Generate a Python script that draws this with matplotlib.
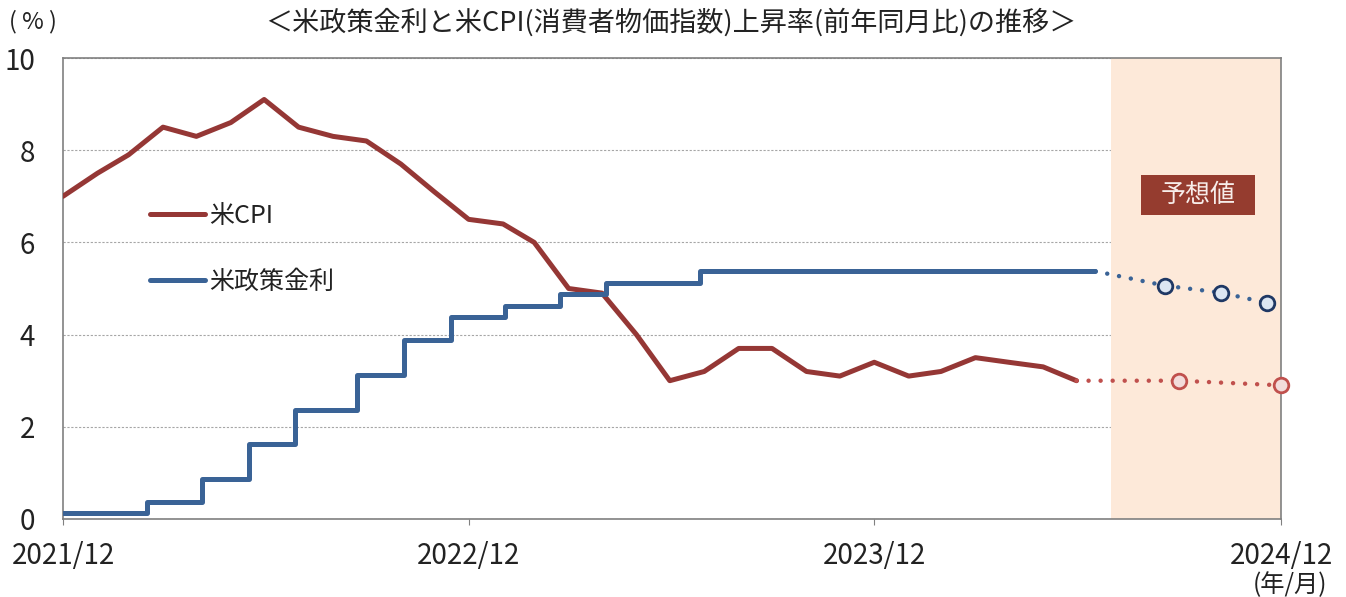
import numpy as np
import pandas as pd
import matplotlib
matplotlib.use("Agg")
import matplotlib.pyplot as plt
import matplotlib.patches as mpatches

plt.rcParams['font.family'] = ['Noto Sans CJK JP', 'DejaVu Sans']

# 米CPI (前年同月比, %) 月末
cpi_months = ["2021/12", "2022/01", "2022/02", "2022/03", "2022/04", "2022/05", "2022/06",
              "2022/07", "2022/08", "2022/09", "2022/10", "2022/11", "2022/12",
              "2023/01", "2023/02", "2023/03", "2023/04", "2023/05", "2023/06",
              "2023/07", "2023/08", "2023/09", "2023/10", "2023/11", "2023/12",
              "2024/01", "2024/02", "2024/03", "2024/04", "2024/05", "2024/06"]
cpi = [7.0, 7.5, 7.9, 8.5, 8.3, 8.6, 9.1, 8.5, 8.3, 8.2, 7.7, 7.1, 6.5,
       6.4, 6.0, 5.0, 4.9, 4.0, 3.0, 3.2, 3.7, 3.7, 3.2, 3.1, 3.4,
       3.1, 3.2, 3.5, 3.4, 3.3, 3.0]

# 予想値 (CPI)
cpi_fc_months = ["2024/06", "2024/09", "2024/12"]
cpi_fc = [3.0, 3.0, 2.9]

# 米政策金利 (FF金利誘導目標 中央値)
rate_dates = ["2021-12-31", "2022-03-17", "2022-05-05", "2022-06-16", "2022-07-28",
              "2022-09-22", "2022-11-03", "2022-12-15", "2023-02-02", "2023-03-23",
              "2023-05-04", "2023-07-27", "2024-07-17"]
rate = [0.125, 0.375, 0.875, 1.625, 2.375, 3.125, 3.875, 4.375, 4.625, 4.875,
        5.125, 5.375, 5.375]

# 予想値 (政策金利)
rate_fc_dates = ["2024-07-17", "2024-09-18", "2024-11-07", "2024-12-18"]
rate_fc = [5.375, 5.06, 4.91, 4.69]

forecast_start = "2024-07-31"
xticks = ["2021/12", "2022/12", "2023/12", "2024/12"]


def month_end(labels):
    return pd.to_datetime(labels, format="%Y/%m") + pd.offsets.MonthEnd(0)


red = "#953735"
blue = "#3A6396"
grey = "#808080"
txt = "#222222"

fig = plt.figure(figsize=(13.46, 5.97), dpi=100)
ax = fig.add_axes([63 / 1346, 78 / 597, 1218 / 1346, 461 / 597])

x_tick_dates = month_end(xticks)
ax.axvspan(pd.Timestamp(forecast_start), x_tick_dates[-1], color="#FDE9D9", lw=0, zorder=1)

ax.plot(month_end(cpi_months), cpi, color=red, lw=3.6, solid_capstyle="round",
        solid_joinstyle="round", zorder=3, label="米CPI")
ax.plot(pd.to_datetime(rate_dates), rate, drawstyle="steps-post", color=blue, lw=3.6,
        solid_capstyle="round", solid_joinstyle="round", zorder=3, label="米政策金利")

# forecast dotted lines and markers
ax.plot(month_end(cpi_fc_months), cpi_fc, color="#C0504D", lw=3.2, ls=(0, (0.01, 2.7)),
        dash_capstyle="round", zorder=3)
ax.plot(month_end(cpi_fc_months)[1:], cpi_fc[1:], ls="none", marker="o", ms=10.5,
        mfc="#F2DCDB", mec="#C0504D", mew=2, zorder=4, clip_on=False)
ax.plot(pd.to_datetime(rate_fc_dates), rate_fc, color=blue, lw=3.2, ls=(0, (0.01, 2.7)),
        dash_capstyle="round", zorder=3)
ax.plot(pd.to_datetime(rate_fc_dates)[1:], rate_fc[1:], ls="none", marker="o", ms=10.5,
        mfc="#DCE6F2", mec="#1F3864", mew=2, zorder=4, clip_on=False)

ax.set_xlim(x_tick_dates[0], x_tick_dates[-1])
ax.set_ylim(0, 10)
ax.set_yticks(np.arange(0, 11, 2))
ax.set_xticks(x_tick_dates)
ax.set_xticklabels(xticks)
ax.tick_params(axis="y", length=0, pad=20, labelsize=20, labelcolor=txt)
ax.tick_params(axis="x", length=4, color=grey, pad=12, labelsize=20, labelcolor=txt)

ax.set_axisbelow(True)
ax.yaxis.grid(True, color="#A6A6A6", lw=0.8, ls=(0, (2, 1.5)))
for s in ax.spines.values():
    s.set_color(grey)
    s.set_linewidth(1.2)

ax.legend(loc="upper left", bbox_to_anchor=(0.0714, 0.685), frameon=False, fontsize=18,
          handlelength=2.2, handletextpad=0.16, labelspacing=1.6, borderpad=0,
          borderaxespad=0, labelcolor=txt)

# 予想値 box
fig.patches.append(mpatches.Rectangle((1141 / 1346, 1 - 215 / 597), 114 / 1346, 40 / 597,
                                      transform=fig.transFigure, fc="#953C2F", ec="none",
                                      zorder=5))
fig.text(1198 / 1346, 1 - 195 / 597, "予想値", ha="center", va="center", fontsize=18,
         color="#F7EDEA", zorder=6)

fig.text(671 / 1346, 1 - 22 / 597, "＜米政策金利と米CPI(消費者物価指数)上昇率(前年同月比)の推移＞",
         ha="center", va="center", fontsize=19.5, color=txt)
fig.text(9 / 1346, 1 - 22 / 597, "( % )", ha="left", va="center", fontsize=17, color=txt)
fig.text(1290 / 1346, 1 - 585 / 597, "(年/月)", ha="center", va="center", fontsize=17.5,
         color=txt)

fig.savefig("out.png", dpi=100)
